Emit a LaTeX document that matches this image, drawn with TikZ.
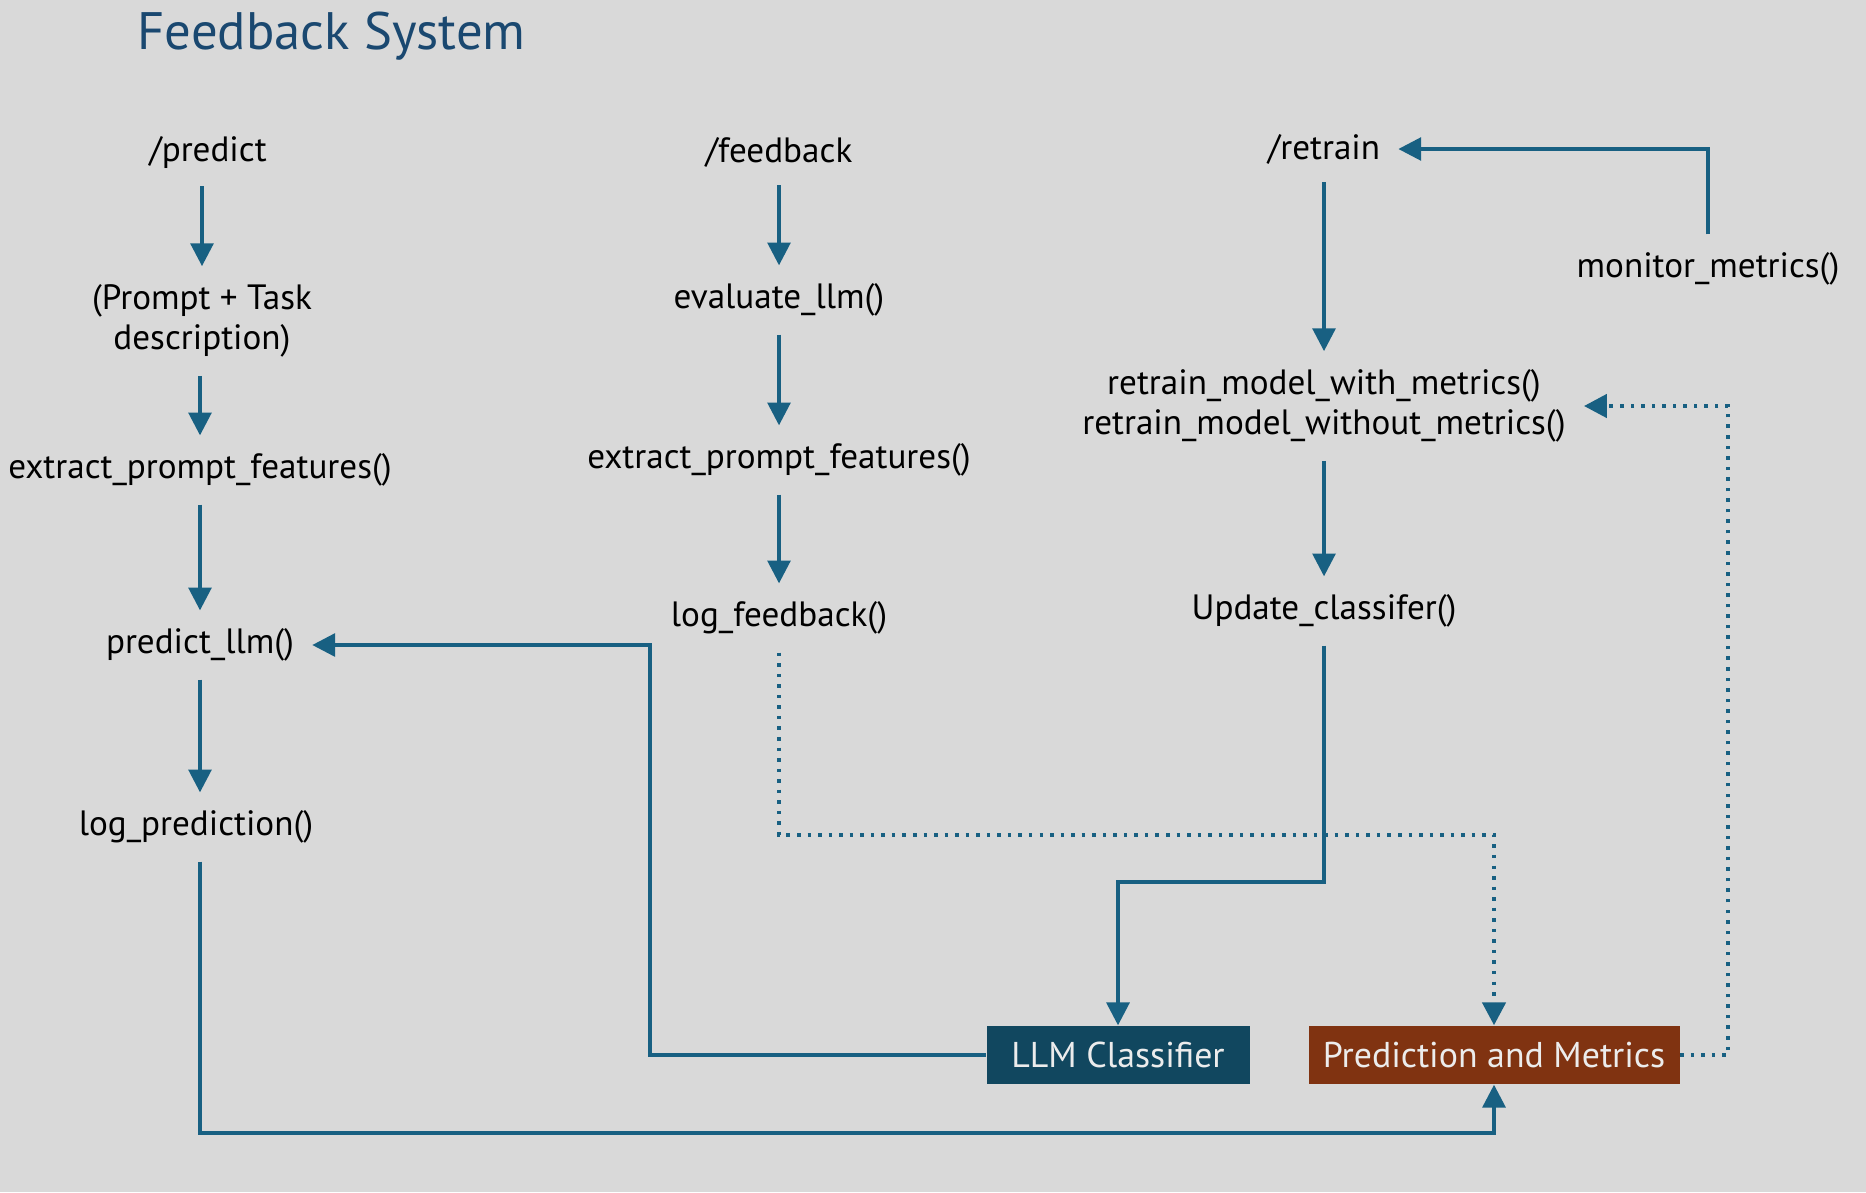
\documentclass[tikz,border=0pt]{standalone}
\usepackage{fontspec}
\setmainfont{PT Sans}
\definecolor{fbback}{RGB}{217,217,217}
\definecolor{fbtitle}{RGB}{26,72,112}
\definecolor{fbarrow}{RGB}{24,96,130}
\definecolor{fbclass}{RGB}{17,71,95}
\definecolor{fbmetric}{RGB}{128,51,17}
\definecolor{fbwhite}{RGB}{236,236,236}
\usetikzlibrary{arrows.meta,positioning,calc}

\begin{document}
\begin{tikzpicture}[
    stepnode/.style={font=\fontsize{10}{11.5}\selectfont, text=black, align=center,
                     inner sep=5pt},
    boxnode/.style={rectangle, font=\fontsize{10.2}{12}\selectfont, text=fbwhite,
                    minimum height=0.58cm, inner sep=4pt},
    flow/.style={-{Triangle[length=6.5pt,width=6.5pt]}, line width=1pt, fbarrow},
    dotflow/.style={flow, dotted, line width=1.3pt},
    line/.style={line width=1pt, fbarrow}
  ]
    % --- Canvas ---
    \fill[fbback] (0,0) rectangle (18.66,-11.92);
    \useasboundingbox (0,0) rectangle (18.66,-11.92);

    \node[anchor=west, inner sep=0pt, font=\fontsize{15}{18}\selectfont, text=fbtitle] (title) at (1.37,-0.36) {Feedback System};

    % --- /predict column ---
    \node[stepnode] (p1) at (2.08,-1.52) {/predict};
    \node[stepnode] (p2) at (2.02,-3.21) {(Prompt + Task\\description)};
    \node[stepnode] (p3) at (2.00,-4.70) {extract\_prompt\_features()};
    \node[stepnode] (p4) at (2.00,-6.45) {predict\_llm()};
    \node[stepnode] (p5) at (1.96,-8.27) {log\_prediction()};

    % --- /feedback column ---
    \node[stepnode] (f1) at (7.79,-1.52) {/feedback};
    \node[stepnode] (f2) at (7.79,-3.00) {evaluate\_llm()};
    \node[stepnode] (f3) at (7.79,-4.60) {extract\_prompt\_features()};
    \node[stepnode] (f4) at (7.79,-6.18) {log\_feedback()};

    % --- /retrain column ---
    \node[stepnode] (r1) at (13.24,-1.49) {/retrain};
    \node[stepnode] (r2) at (13.24,-4.06) {retrain\_model\_with\_metrics()\\retrain\_model\_without\_metrics()};
    \node[stepnode] (r3) at (13.24,-6.11) {Update\_classifer()};
    \node[stepnode] (mon) at (17.08,-2.69) {monitor\_metrics()};

    % --- Sinks ---
    \node[boxnode, fill=fbclass, minimum width=2.63cm] (llm) at (11.18,-10.55) {LLM Classifier};
    \node[boxnode, fill=fbmetric, minimum width=3.71cm] (pam) at (14.94,-10.55) {Prediction and Metrics};

    % Bend points
    \coordinate (bot) at (0,-11.33);
    \coordinate (jl) at (6.50,0);
    \coordinate (mid) at (0,-8.82);
    \coordinate (dmid) at (0,-8.35);
    \coordinate (dr) at (17.28,0);

    % Arrows
    \draw[flow] (p1.south -| p2) -- (p2.north);
    \draw[flow] (p2.south -| p3) -- (p3.north);
    \draw[flow] (p3.south) -- (p4.north);
    \draw[flow] (p4.south) -- (p5.north -| p4);
    \draw[flow] (p5.south -| p4) -- (p4 |- bot) -| (pam.south);

    \draw[flow] (f1.south) -- (f2.north);
    \draw[flow] (f2.south) -- (f3.north);
    \draw[flow] (f3.south) -- (f4.north);
    \draw[dotflow] (f4.south) -- (f4 |- dmid) -| (pam.north);

    \draw[flow] (r1.south) -- (r2.north);
    \draw[flow] (r2.south) -- (r3.north);
    \draw[flow] (r3.south) -- (r3 |- mid) -| (llm.north);
    \draw[flow] (mon.north) |- (r1.east);

    \draw[flow] (llm.west) -- (llm.west -| jl) |- (p4.east);
    \draw[dotflow] (pam.east) -- (pam.east -| dr) |- (r2.east);
  \end{tikzpicture}
\end{document}
